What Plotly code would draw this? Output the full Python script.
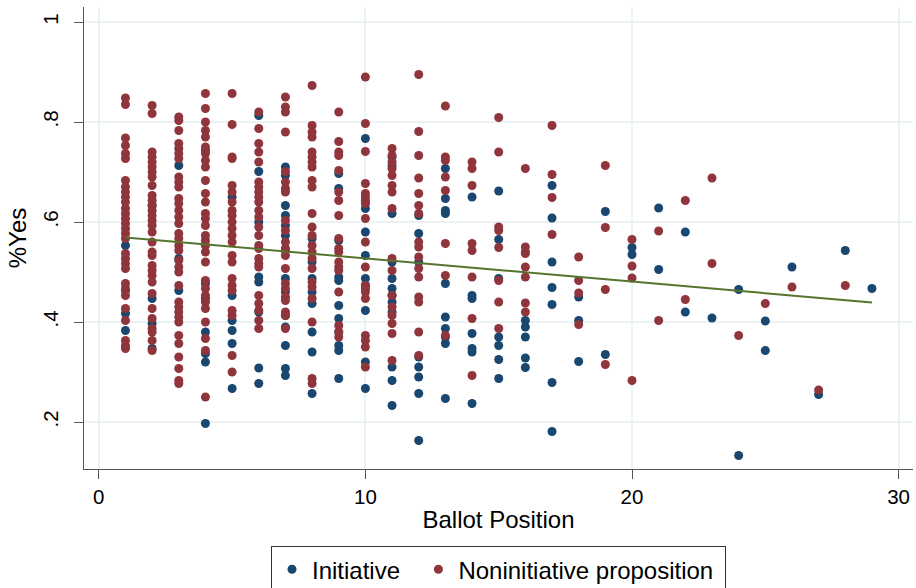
import plotly.graph_objects as go

# Ballot positions
positions = list(range(1, 30))

# %Yes for initiatives, grouped by ballot position (1..29)
init_yes = [
    [0.553, 0.463, 0.417, 0.383],
    [0.633, 0.447, 0.397, 0.347],
    [0.713, 0.527, 0.463],
    [0.743, 0.477, 0.447, 0.38, 0.337, 0.32, 0.197],
    [0.65, 0.453, 0.403, 0.383, 0.357, 0.267],
    [0.813, 0.701, 0.6, 0.49, 0.48, 0.42, 0.308, 0.277],
    [0.71, 0.693, 0.633, 0.613, 0.593, 0.573, 0.543, 0.487, 0.46, 0.413, 0.39, 0.353, 0.307, 0.293],
    [0.567, 0.52, 0.487, 0.46, 0.437, 0.38, 0.34, 0.257],
    [0.697, 0.667, 0.563, 0.49, 0.483, 0.433, 0.407, 0.38, 0.353, 0.343, 0.287],
    [0.767, 0.64, 0.627, 0.58, 0.533, 0.487, 0.473, 0.423, 0.32, 0.267],
    [0.73, 0.713, 0.617, 0.52, 0.487, 0.467, 0.453, 0.44, 0.42, 0.31, 0.283, 0.233],
    [0.613, 0.577, 0.52, 0.33, 0.31, 0.29, 0.257, 0.163],
    [0.707, 0.647, 0.623, 0.617, 0.477, 0.41, 0.387, 0.37, 0.357, 0.247],
    [0.65, 0.453, 0.447, 0.377, 0.347, 0.34, 0.237],
    [0.662, 0.565, 0.487, 0.37, 0.353, 0.325, 0.287],
    [0.403, 0.39, 0.37, 0.328, 0.309],
    [0.673, 0.608, 0.52, 0.469, 0.435, 0.279, 0.181],
    [0.45, 0.403, 0.321],
    [0.621, 0.335],
    [0.549, 0.535],
    [0.628, 0.505],
    [0.58, 0.42],
    [0.408],
    [0.465, 0.133],
    [0.402, 0.343],
    [0.51],
    [0.255],
    [0.543],
    [0.467],
]

# %Yes for noninitiative propositions, grouped by ballot position (1..29)
noninit_yes = [
    [0.848, 0.835, 0.768, 0.753, 0.737, 0.727, 0.683, 0.67, 0.66, 0.65, 0.64, 0.627, 0.617, 0.607, 0.597,
     0.587, 0.577, 0.567, 0.537, 0.527, 0.517, 0.507, 0.477, 0.467, 0.453, 0.427, 0.403, 0.363, 0.353, 0.347],
    [0.833, 0.817, 0.74, 0.73, 0.72, 0.71, 0.70, 0.69, 0.673, 0.653, 0.643, 0.633, 0.623, 0.613, 0.603, 0.593,
     0.58, 0.56, 0.54, 0.533, 0.513, 0.503, 0.493, 0.48, 0.457, 0.427, 0.407, 0.387, 0.38, 0.363, 0.343],
    [0.81, 0.803, 0.783, 0.757, 0.747, 0.737, 0.727, 0.69, 0.68, 0.67, 0.647, 0.637, 0.623, 0.61, 0.597, 0.577,
     0.567, 0.553, 0.543, 0.523, 0.51, 0.5, 0.473, 0.44, 0.43, 0.42, 0.41, 0.4, 0.373, 0.357, 0.33, 0.307, 0.283, 0.277],
    [0.857, 0.827, 0.8, 0.783, 0.77, 0.75, 0.737, 0.723, 0.71, 0.683, 0.657, 0.64, 0.617, 0.607, 0.593, 0.573,
     0.563, 0.553, 0.54, 0.52, 0.483, 0.467, 0.453, 0.44, 0.427, 0.4, 0.367, 0.343, 0.25],
    [0.857, 0.795, 0.73, 0.727, 0.673, 0.66, 0.64, 0.623, 0.613, 0.6, 0.587, 0.573, 0.56, 0.533, 0.52, 0.487,
     0.473, 0.463, 0.423, 0.413, 0.333, 0.3],
    [0.82, 0.787, 0.757, 0.74, 0.72, 0.68, 0.67, 0.66, 0.65, 0.64, 0.623, 0.61, 0.59, 0.573, 0.553, 0.547,
     0.527, 0.517, 0.51, 0.453, 0.437, 0.423, 0.403, 0.387],
    [0.85, 0.83, 0.82, 0.78, 0.701, 0.68, 0.667, 0.66, 0.603, 0.583, 0.56, 0.547, 0.533, 0.507, 0.477, 0.467,
     0.45, 0.443, 0.42, 0.413, 0.387],
    [0.873, 0.793, 0.78, 0.77, 0.74, 0.73, 0.72, 0.71, 0.683, 0.67, 0.617, 0.59, 0.573, 0.553, 0.54, 0.527,
     0.507, 0.48, 0.47, 0.447, 0.4, 0.287, 0.277],
    [0.82, 0.761, 0.74, 0.733, 0.703, 0.66, 0.643, 0.613, 0.567, 0.547, 0.54, 0.52, 0.51, 0.503, 0.46, 0.393,
     0.38, 0.37],
    [0.89, 0.797, 0.741, 0.677, 0.657, 0.65, 0.643, 0.637, 0.607, 0.56, 0.51, 0.473, 0.467, 0.46, 0.447, 0.373,
     0.363, 0.35, 0.31],
    [0.747, 0.733, 0.72, 0.707, 0.693, 0.673, 0.66, 0.627, 0.527, 0.503, 0.453, 0.43, 0.413, 0.397, 0.377, 0.323],
    [0.895, 0.781, 0.733, 0.688, 0.657, 0.633, 0.617, 0.56, 0.55, 0.53, 0.507, 0.49, 0.45, 0.44, 0.38, 0.333],
    [0.832, 0.73, 0.723, 0.69, 0.663, 0.557, 0.493, 0.373],
    [0.72, 0.707, 0.673, 0.557, 0.543, 0.49, 0.407, 0.293],
    [0.809, 0.74, 0.59, 0.583, 0.549, 0.483, 0.44, 0.387],
    [0.707, 0.55, 0.54, 0.537, 0.51, 0.49, 0.438, 0.42],
    [0.793, 0.695, 0.649, 0.575],
    [0.53, 0.483, 0.458, 0.395],
    [0.713, 0.589, 0.465, 0.315],
    [0.565, 0.512, 0.488, 0.283],
    [0.582, 0.403],
    [0.643, 0.445],
    [0.688, 0.517],
    [0.373],
    [0.437],
    [0.47],
    [0.264],
    [0.473],
    [],
]

# Fitted linear trend (endpoints of the drawn line)
fit_x = [1, 29]
fit_y = [0.569, 0.439]

y_tickvals = [0.2, 0.4, 0.6, 0.8, 1.0]
y_ticktext = [".2", ".4", ".6", ".8", "1"]
x_tickvals = [0, 10, 20, 30]


def flatten(groups):
    xs, ys = [], []
    for p, vals in zip(positions, groups):
        for v in vals:
            xs.append(p)
            ys.append(v)
    return xs, ys


ix, iy = flatten(init_yes)
nx, ny = flatten(noninit_yes)

NAVY = "#1a476f"
MAROON = "#90353b"
GREEN = "#55752f"
GRID = "#eaf2f3"
AXIS = "#555555"
FONT = "Liberation Sans, Arial, sans-serif"
NB = "\u00a0"

fig = go.Figure()
fig.add_trace(go.Scatter(x=ix, y=iy, mode="markers", name="Initiative" + NB * 2,
                         marker=dict(color=NAVY, size=9, line=dict(width=0))))
fig.add_trace(go.Scatter(x=nx, y=ny, mode="markers", name="Noninitiative proposition" + NB,
                         marker=dict(color=MAROON, size=9, line=dict(width=0))))
fig.add_trace(go.Scatter(x=fit_x, y=fit_y, mode="lines", showlegend=False,
                         line=dict(color=GREEN, width=2)))

fig.update_layout(
    width=916, height=588,
    margin=dict(l=84, r=3, t=7, b=119, autoexpand=False),
    paper_bgcolor="white", plot_bgcolor="white",
    font=dict(family=FONT, color="#000000"),
    showlegend=True,
    legend=dict(orientation="h", x=0.5, xanchor="center", y=-0.167, yanchor="top",
                bordercolor="#333333", borderwidth=1, font=dict(size=24, family=FONT),
                bgcolor="white"),
)
fig.update_xaxes(
    range=[-0.555, 30.54], tickvals=x_tickvals, ticks="outside", ticklen=9,
    tickcolor=AXIS, tickwidth=1.3, showline=True, linecolor=AXIS, linewidth=1.3,
    showgrid=True, gridcolor=GRID, gridwidth=1.5, zeroline=False, automargin=False,
    tickfont=dict(size=20.5), title=dict(text="Ballot Position", font=dict(size=24), standoff=4),
)
fig.update_yaxes(
    range=[0.106, 1.03], tickvals=y_tickvals, ticktext=y_ticktext, tickangle=-90,
    ticks="outside", ticklen=9, tickcolor=AXIS, tickwidth=1.3, showline=True,
    linecolor=AXIS, linewidth=1.3, showgrid=True, gridcolor=GRID, gridwidth=1.5,
    zeroline=False, automargin=False, ticklabelstandoff=8, tickfont=dict(size=20.5),
    title=dict(text="%Yes", font=dict(size=24), standoff=5),
)

fig.write_html("out.html", config={"displayModeBar": False},
               post_script="document.body.style.margin='0';")
